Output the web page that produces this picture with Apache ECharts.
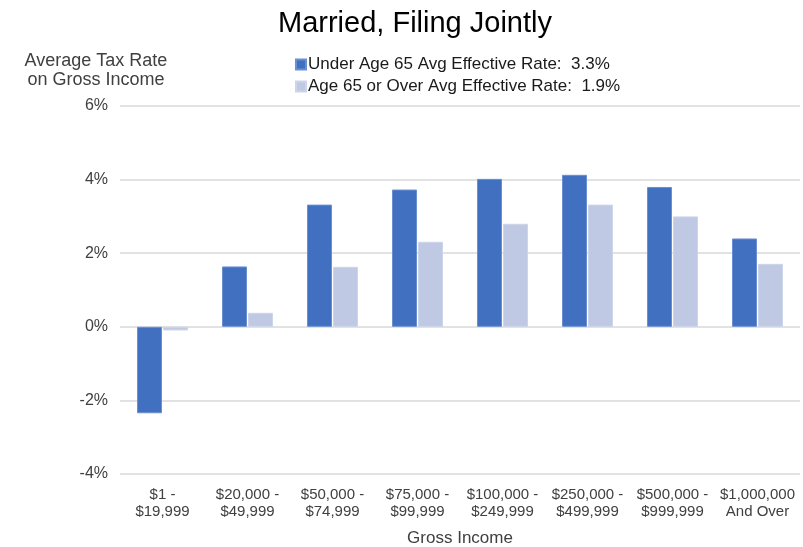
<!DOCTYPE html>
<html>
<head>
<meta charset="utf-8">
<script src="https://cdn.jsdelivr.net/npm/echarts@6/dist/echarts.min.js"></script>
<style>
  html, body { margin: 0; padding: 0; background: #fff; }
  #chart { width: 803px; height: 547px; }
</style>
</head>
<body>
<div id="chart"></div>
<script>
const categories = [
  '$1 -\n$19,999', '$20,000 -\n$49,999', '$50,000 -\n$74,999', '$75,000 -\n$99,999',
  '$100,000 -\n$249,999', '$250,000 -\n$499,999', '$500,000 -\n$999,999', '$1,000,000\nAnd Over'
]
const seriesNames = [
  'Under Age 65 Avg Effective Rate:  3.3%',
  'Age 65 or Over Avg Effective Rate:  1.9%'
]
const under65 = [-2.35, 1.64, 3.32, 3.73, 4.02, 4.13, 3.8, 2.4]
const over65 = [-0.1, 0.38, 1.63, 2.31, 2.8, 3.32, 3.0, 1.71]
const yTicks = { min: -4, max: 6, interval: 2 }

const font = 'Arial, "Liberation Sans", sans-serif'

const chart = echarts.init(document.getElementById('chart'))
chart.setOption({
  animation: false,
  title: [
    {
      text: 'Married, Filing Jointly',
      left: 410,
      top: 4,
      textAlign: 'center',
      textStyle: { fontFamily: font, fontSize: 29, fontWeight: 'normal', color: '#000' }
    },
    {
      text: 'Average Tax Rate\non Gross Income',
      left: 91,
      top: 47,
      textAlign: 'center',
      textStyle: { fontFamily: font, fontSize: 18, fontWeight: 'normal', color: '#404040', lineHeight: 19 }
    }
  ],
  legend: {
    orient: 'vertical',
    left: 290,
    top: 51,
    itemWidth: 10,
    itemHeight: 10,
    itemGap: 5,
    icon: 'rect',
    textStyle: { fontFamily: font, fontSize: 17, color: '#1a1a1a', padding: [0, 0, 0, -3] },
    data: seriesNames
  },
  grid: { left: 120, right: 3, top: 106, bottom: 73, containLabel: false, outerBoundsMode: 'none' },
  xAxis: {
    type: 'category',
    data: categories,
    name: 'Gross Income',
    nameLocation: 'middle',
    nameGap: 56,
    nameTextStyle: { fontFamily: font, fontSize: 17, color: '#404040' },
    axisLine: { show: false, onZero: false },
    axisTick: { show: false },
    axisLabel: { fontFamily: font, fontSize: 15, color: '#404040', margin: 12, lineHeight: 17, interval: 0 }
  },
  yAxis: {
    type: 'value',
    min: yTicks.min,
    max: yTicks.max,
    interval: yTicks.interval,
    axisLine: { show: false },
    axisTick: { show: false },
    axisLabel: { fontFamily: font, fontSize: 16, color: '#404040', margin: 12, formatter: '{value}%' },
    splitLine: { lineStyle: { color: '#d9d9d9', width: 1.5 } }
  },
  series: [
    {
      name: seriesNames[0],
      type: 'bar',
      data: under65,
      barWidth: 25,
      barGap: '4%',
      itemStyle: { color: '#4270c0', borderColor: '#6a8fd2', borderWidth: 1 }
    },
    {
      name: seriesNames[1],
      type: 'bar',
      data: over65,
      barWidth: 25,
      itemStyle: { color: '#c0c9e3', borderColor: '#cdd5ea', borderWidth: 1 }
    }
  ]
})
</script>
</body>
</html>
